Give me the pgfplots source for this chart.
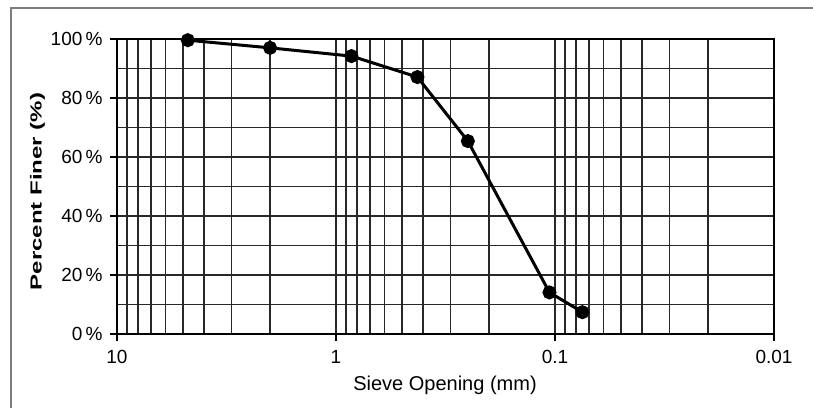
\documentclass[border=0pt]{standalone}
\usepackage{pgfplots}
\pgfplotsset{compat=1.18}
\usepackage{fontspec}
\setmainfont{Liberation Sans}
\usepackage{graphicx}
\definecolor{framegray}{RGB}{125,125,125}
\definecolor{gridc}{RGB}{40,40,40}
\begin{document}
\begin{tikzpicture}[x=1pt,y=1pt]
\useasboundingbox (0,0) rectangle (813,408);
\draw[line width=2.5pt, framegray] (11,0) -- (11,400) -- (813,400);
\begin{axis}[
  at={(117pt,74pt)}, anchor=south west,
  scale only axis, width=657pt, height=295pt,
  xmode=log, x dir=reverse, xmin=0.01, xmax=10,
  ymin=0, ymax=100,
  xtick={0.01,0.1,1,10}, xticklabels={0.01,0.1,1,10},
  minor xtick={0.02,0.03,0.04,0.05,0.06,0.07,0.08,0.09,0.2,0.3,0.4,0.5,0.6,0.7,0.8,0.9,2,3,4,5,6,7,8,9},
  ytick={0,20,40,60,80,100},
  minor ytick={10,30,50,70,90},
  grid=both,
  major grid style={gridc, line width=1.6pt},
  minor grid style={gridc, line width=1.6pt},
  tick align=outside, tick pos=left,
  major tick length=7pt, minor tick length=0pt,
  tick style={black, line width=1.5pt},
  axis line style={black, line width=1.8pt},
  /pgf/number format/assume math mode=true,
  yticklabel={\pgfmathprintnumber{\tick}\,\%},
  ticklabel style={font=\fontsize{19}{21}\selectfont},
  yticklabel style={xshift=-4pt},
  xticklabel style={yshift=-6pt},
]
\addplot[black, line width=3pt, mark=*, mark size=5.5pt] coordinates {
  (4.75,99.6) (2.0,97.0) (0.85,94.2) (0.425,87.1) (0.25,65.4) (0.106,14.1) (0.075,7.4)
};
\end{axis}
\node[rotate=90, font=\bfseries\fontsize{16}{18}\selectfont] at (37.5,216.5) {\scalebox{1.5}[1]{Percent Finer (\%)}};
\node[anchor=base, font=\fontsize{20}{22}\selectfont] at (445,18) {Sieve Opening (mm)};
\end{tikzpicture}
\end{document}
